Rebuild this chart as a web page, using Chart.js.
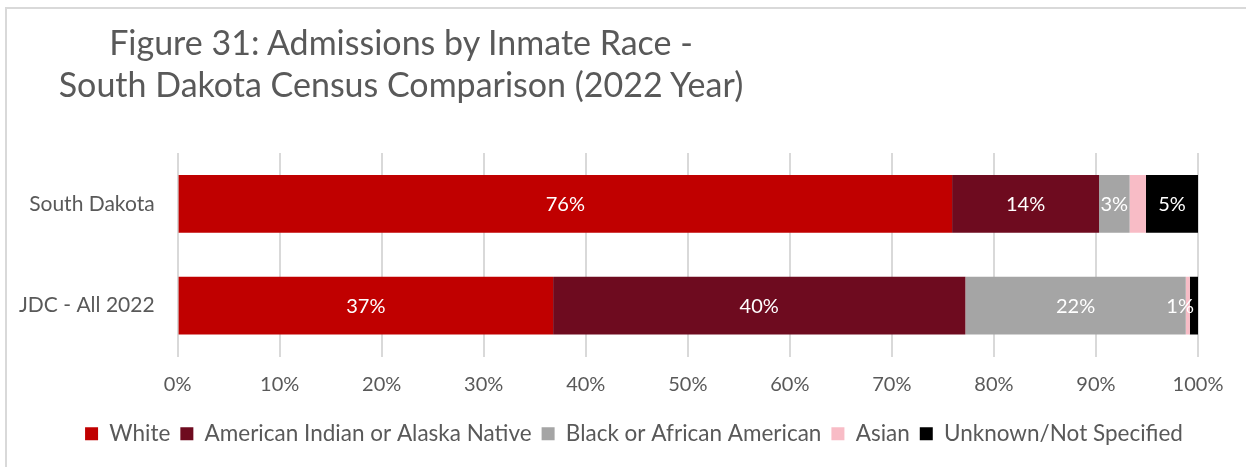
<!DOCTYPE html>
<html>
<head>
<meta charset="utf-8">
<script src="https://cdn.jsdelivr.net/npm/chart.js@4"></script>
<style>
  html, body { margin: 0; padding: 0; background: #fff; }
  #wrap { position: relative; width: 1246px; height: 467px; overflow: hidden; }
  #frame { position: absolute; left: 5px; top: 7px; width: 1260px; height: 480px; border: 2px solid #d9d9d9; box-sizing: border-box; }
  #title { position: absolute; left: 0; top: 21px; width: 802px; text-align: center; font-family: Lato, "Open Sans", sans-serif; font-size: 34px; line-height: 42px; color: #595959; }
  canvas { position: absolute; left: 0; top: 0; }
</style>
</head>
<body>
<div id="wrap">
  <div id="frame"></div>
  <canvas id="myChart" width="1246" height="467"></canvas>
  <div id="title">Figure 31: Admissions by Inmate Race -<br>South Dakota Census Comparison (2022 Year)</div>
</div>
<script>
const categories = ["South Dakota", "JDC - All 2022"];
const seriesNames = ["White", "American Indian or Alaska Native", "Black or African American", "Asian", "Unknown/Not Specified"];

// percent of admissions per category
const white = [75.9, 36.8];
const nativeAm = [14.4, 40.4];
const black = [3.0, 21.6];
const asian = [1.6, 0.4];
const unknown = [5.1, 0.8];

// which series get a value label on the bar
const showLabel = [true, true, true, false, true];

const colors = ["#c00000", "#6e0b1f", "#a5a5a5", "#f8bcc6", "#000000"];
const allValues = [white, nativeAm, black, asian, unknown];

const fontName = "Lato, 'Open Sans', sans-serif";

// draw the % labels in the middle of each segment
const barLabels = {
  id: "barLabels",
  afterDatasetsDraw(chart) {
    const ctx = chart.ctx;
    ctx.save();
    ctx.font = "20px " + fontName;
    ctx.fillStyle = "#ffffff";
    ctx.textBaseline = "middle";
    ctx.textAlign = "center";
    chart.data.datasets.forEach((ds, i) => {
      if (!showLabel[i]) return;
      const meta = chart.getDatasetMeta(i);
      meta.data.forEach((bar, j) => {
        const v = ds.data[j];
        if (!v) return;
        const txt = Math.round(v) + "%";
        const w = ctx.measureText(txt).width;
        const left = Math.min(bar.x, bar.base);
        const right = Math.max(bar.x, bar.base);
        let x = (left + right) / 2;
        if (x + w / 2 > right) x = right - w / 2 - 4;
        ctx.fillText(txt, x, bar.y + 1);
      });
    });
    ctx.restore();
  }
};

// the legend sits a bit right of the canvas centre in the original
const legendShift = {
  id: "legendShift",
  afterLayout(chart) {
    chart.legend.left += 66;
  }
};

const datasets = [];
for (let i = 0; i < seriesNames.length; i++) {
  datasets.push({
    label: seriesNames[i],
    data: allValues[i],
    backgroundColor: colors[i],
    borderWidth: 0,
    barPercentage: 0.57,
    categoryPercentage: 1.0
  });
}

new Chart(document.getElementById("myChart"), {
  type: "bar",
  data: { labels: categories, datasets: datasets },
  plugins: [barLabels, legendShift],
  options: {
    indexAxis: "y",
    responsive: false,
    animation: false,
    layout: { padding: { top: 153, left: 4, right: 48, bottom: 12 } },
    scales: {
      x: {
        stacked: true,
        min: 0,
        max: 100,
        ticks: {
          stepSize: 10,
          callback: (v) => v + "%",
          color: "#595959",
          font: { family: fontName, size: 20 },
          padding: 16
        },
        grid: { color: "#d9d9d9", lineWidth: 2, drawTicks: false },
        border: { display: false }
      },
      y: {
        stacked: true,
        ticks: {
          color: "#595959",
          font: { family: fontName, size: 21 },
          padding: 15
        },
        grid: { display: false },
        border: { display: false }
      }
    },
    plugins: {
      legend: {
        position: "bottom",
        labels: {
          boxWidth: 13,
          boxHeight: 13,
          padding: 10,
          color: "#595959",
          font: { family: fontName, size: 22.5 }
        }
      },
      tooltip: { enabled: false }
    }
  }
});
</script>
</body>
</html>
